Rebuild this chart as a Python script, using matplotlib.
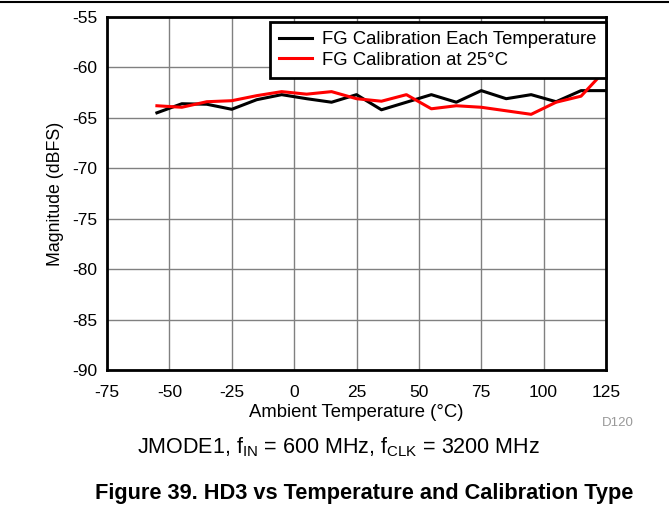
import matplotlib
matplotlib.use("Agg")
import matplotlib.pyplot as plt
from matplotlib.lines import Line2D

plt.rcParams['font.family'] = ['Liberation Sans', 'DejaVu Sans']
plt.rcParams['axes.unicode_minus'] = False

temps = [-55, -45, -35, -25, -15, -5, 5, 15, 25, 35, 45, 55, 65, 75, 85, 95, 105, 115, 125]
each_temp = [-64.5, -63.6, -63.65, -64.15, -63.2, -62.7, -63.1, -63.45, -62.7, -64.2,
             -63.45, -62.7, -63.45, -62.3, -63.1, -62.7, -63.4, -62.3, -62.3]
at_25 = [-63.8, -63.95, -63.4, -63.3, -62.8, -62.4, -62.65, -62.4, -63.1, -63.35,
         -62.7, -64.1, -63.8, -63.95, -64.3, -64.65, -63.45, -62.85, -60.2]
series_labels = ["FG Calibration Each Temperature", "FG Calibration at 25\u00b0C"]
xticks = [-75, -50, -25, 0, 25, 50, 75, 100, 125]
yticks = [-90, -85, -80, -75, -70, -65, -60, -55]

W, H = 669, 508
fig = plt.figure(figsize=(W/100, H/100), dpi=100)
ax = fig.add_axes([107/W, 1-370/H, (606-107)/W, (370-17)/H])

ax.plot(temps, each_temp, color='black', lw=2.2, zorder=3)
ax.plot(temps, at_25, color='#ff0000', lw=2.2, zorder=3)

ax.set_xlim(-75, 125)
ax.set_ylim(-90, -55)
ax.set_xticks(xticks)
ax.set_yticks(yticks)
ax.grid(True, color='#808080', lw=1.0)
ax.tick_params(length=0, labelsize=12.5)
ax.tick_params(axis='x', pad=11)
ax.tick_params(axis='y', pad=7)
for s in ax.spines.values():
    s.set_linewidth(2)
ax.set_xlabel("Ambient Temperature (\u00b0C)", fontsize=13.3, labelpad=2.5)
ax.set_ylabel("Magnitude (dBFS)", fontsize=12.8, labelpad=6)

handles = [Line2D([], [], color='black', lw=2.2), Line2D([], [], color='#ff0000', lw=2.2)]
leg = ax.legend(handles, series_labels, loc='upper right', bbox_to_anchor=(1.0, 0.986),
                fontsize=13.3, frameon=True, fancybox=False, framealpha=1,
                edgecolor='black', borderpad=0.5, labelspacing=0.2,
                handlelength=1.8, handletextpad=0.55, borderaxespad=0)
leg.get_frame().set_linewidth(2)
leg.set_zorder(5)

fig.add_artist(Line2D([0, 1], [1-2/H, 1-2/H], color='black', lw=1.5))
fig.text(618/W, 1-423/H, "D120", color='#999999', fontsize=9.5, ha='center', va='center')
fig.text(338/W, 1-447/H, r"JMODE1, f$_\mathregular{IN}$ = 600 MHz, f$_\mathregular{CLK}$ = 3200 MHz",
         fontsize=15.5, ha='center', va='center')
fig.text(364/W, 1-493/H, "Figure 39. HD3 vs Temperature and Calibration Type",
         fontsize=15.7, fontweight='bold', ha='center', va='center')

fig.savefig("out.png", dpi=100)
